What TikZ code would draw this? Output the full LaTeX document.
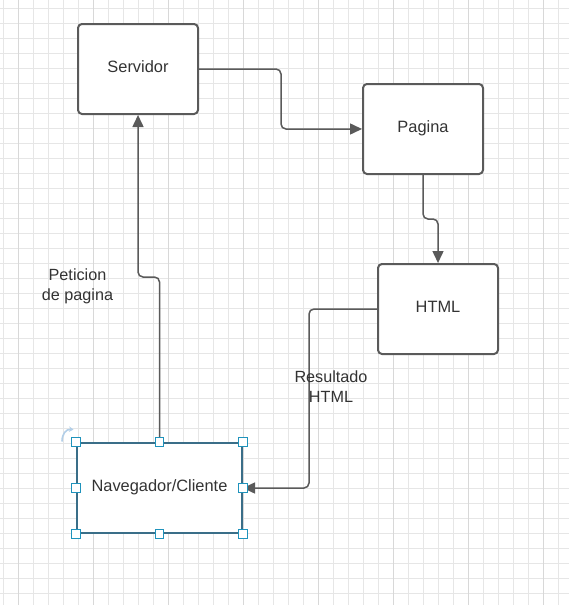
\documentclass[tikz,border=0pt]{standalone}
\usepackage{fontspec}
\setmainfont{Liberation Sans}
\usetikzlibrary{arrows.meta}
\definecolor{gridc}{HTML}{E6E6E6}
\definecolor{gridm}{HTML}{D8D8D8}
\definecolor{linec}{HTML}{5A5A5A}
\definecolor{textc}{HTML}{333333}
\definecolor{selc}{HTML}{3A6E88}
\definecolor{handc}{HTML}{1F93BC}
\definecolor{rotc}{HTML}{B3CFE8}
\tikzset{
  box/.style={draw=linec, line width=2pt, rounded corners=4pt, fill=white,
    minimum width=120pt, minimum height=90pt, inner sep=0pt, text=textc,
    text height=12pt, text depth=6pt,
    font=\fontsize{16.4}{19.5}\selectfont},
  selbox/.style={box, draw=selc, rounded corners=0pt, minimum width=165pt},
  conn/.style={draw=linec, line width=1.5pt, rounded corners=5pt,
    -{Triangle[length=12pt,width=11pt]}},
  lbl/.style={text=textc, align=center, inner sep=0pt,
    font=\fontsize{16.2}{19.5}\selectfont},
  handle/.style={draw=handc, fill=white, line width=1.1pt,
    minimum size=8.5pt, inner sep=0pt}
}
\begin{document}
\begin{tikzpicture}[x=1pt,y=-1pt]
\useasboundingbox (0,0) rectangle (569,605);
\fill[white] (0,0) rectangle (569,605);
% grid
\foreach \x in {3,18,...,568} \draw[gridc, line width=0.7pt] (\x,0) -- (\x,605);
\foreach \y in {8,23,...,603} \draw[gridc, line width=0.7pt] (0,\y) -- (569,\y);
\foreach \x in {18,93,...,568} \draw[gridm, line width=0.7pt] (\x,0) -- (\x,605);
% boxes
\node[box] (serv) at (138,69) {Servidor};
\node[box] (pag) at (423,129) {Pagina};
\node[box] (html) at (438,309) {HTML};
\node[selbox] (nav) at (159.5,488) {Navegador/Cliente};
% connectors
\draw[conn] (serv.east) -- ++(82,0) |- (pag.west);
\draw[conn] (pag.south) -- ++(0,44) -| (html.north);
\draw[conn] (nav.north) -- ++(0,-165) -| (serv.south);
\draw[conn] (html.west) -- ++(-68,0) |- (nav.east);
% labels
\node[lbl] (l1) at (77.5,286.5) {Peticion\\de pagina};
\node[lbl] (l2) at (331,386.5) {Resultado\\HTML};
% selection handles
\foreach \a/\n in {north west/h1,north/h2,north east/h3,west/h4,east/h5,south west/h6,south/h7,south east/h8}
  \node[handle] (\n) at (nav.\a) {};
% rotation icon
\draw[rotc, line width=1.6pt, -{Stealth[length=4.5pt,width=5.5pt]}] (62,441.5) .. controls (62,434) and (66,429) .. (73.5,429.5);
\end{tikzpicture}
\end{document}
